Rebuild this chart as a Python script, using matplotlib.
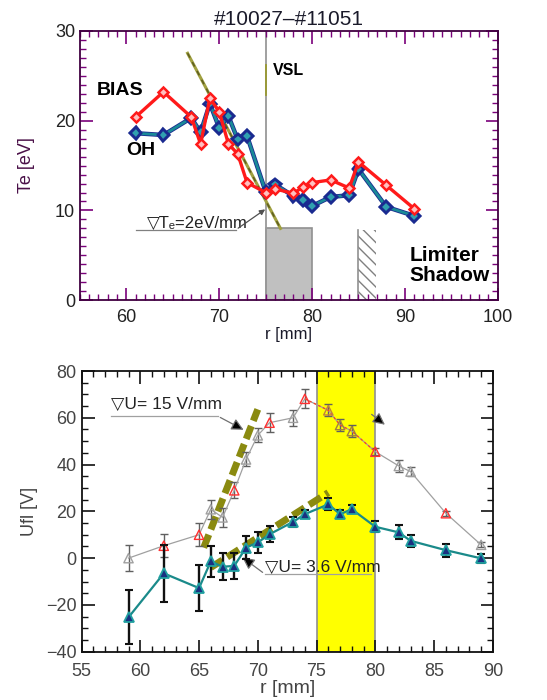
import numpy as np
import matplotlib.pyplot as plt
import matplotlib.patheffects as pe
from matplotlib.patches import Rectangle
from matplotlib.ticker import MultipleLocator

plt.rcParams['font.family'] = ['Liberation Sans', 'DejaVu Sans']

# electron temperature profiles (upper panel)
r_te = [61, 64, 67, 68, 69, 70, 71, 72, 73, 75, 76, 78, 79, 80, 82, 84, 85, 88, 91]
te_bias = [20.4, 23.2, 20.4, 17.4, 22.5, 21.0, 17.4, 16.3, 13.1, 12.0, 12.4, 11.9,
           12.6, 13.1, 13.4, 12.5, 15.4, 12.8, 10.2]
te_oh = [18.6, 18.4, 20.3, 18.7, 21.9, 19.2, 20.5, 17.9, 18.3, 12.1, 12.9, 11.6,
         11.2, 10.5, 11.5, 11.7, 14.6, 10.4, 9.4]

# floating potential profiles (lower panel)
r_uf = [59, 62, 65, 66, 67, 68, 69, 70, 71, 73, 74, 76, 77, 78, 80, 82, 83, 86, 89]
uf_bias = [0.0, 5.3, 10.0, 20.9, 17.4, 29.0, 42.2, 52.5, 57.9, 60.0, 68.1, 63.2,
           56.9, 54.3, 45.5, 39.4, 37.0, 19.2, 5.7]
uf_bias_err = [5.5, 5.0, 5.0, 4.0, 4.0, 3.5, 3.0, 3.0, 4.0, 3.5, 4.0, 2.6,
               2.5, 2.5, 1.5, 2.5, 2.0, 1.0, 1.0]
uf_oh = [-25.3, -6.5, -12.8, -1.4, -3.7, -3.3, 4.5, 6.7, 10.2, 15.5, 18.8, 23.0,
         18.8, 20.9, 13.4, 11.0, 7.4, 3.4, -0.1]
uf_oh_err = [11.6, 12.2, 9.8, 6.6, 5.8, 5.7, 5.0, 4.3, 3.5, 2.1, 1.7, 2.6,
             1.7, 1.7, 2.3, 3.0, 2.6, 2.8, 1.8]

# gradient fits: (r start, r end, value start, value end)
te_fit = [66.6, 76.6, 27.5, 8.0]
uf_fit_steep = [65.4, 70.0, 4.5, 63.6]
uf_fit_flat = [66.0, 76.0, -4.0, 28.0]

frame = '#400040'
purple = '#7a007a'

fig = plt.figure(figsize=(5.47, 7.0), dpi=100)

# ---------------- upper panel: Te ----------------
ax1 = fig.add_axes([0.146, 0.571, 0.764, 0.385])
ax1.set_xlim(55, 100)
ax1.set_ylim(0, 30)

ax1.add_patch(Rectangle((75, 0), 5, 8, facecolor='#c0c0c0', edgecolor='#909090', lw=1.2, zorder=1))
ax1.add_patch(Rectangle((85, 0), 1.9, 7.8, facecolor='none', edgecolor='#808080', lw=0,
                        hatch='\\\\\\', zorder=1))
ax1.plot([85, 85], [0, 7.8], color='#909090', lw=1.2, zorder=1)
ax1.axvline(75, color='#999999', lw=1.3, zorder=1)
ax1.plot([75, 75], [22.9, 26.2], color='#9a9a30', lw=1.3, zorder=1)

ax1.plot(te_fit[:2], te_fit[2:], color='#a0a040', lw=2.2, zorder=2)
ax1.plot(te_fit[:2], te_fit[2:], color='#606020', lw=1.2, ls=(0, (3, 3)), zorder=2)

ax1.plot(r_te, te_oh, color='#1a8a98', lw=2.0, marker='D', ms=5, mfc='#30a0b0',
         mec='#1a2a90', mew=1.1, zorder=3,
         path_effects=[pe.Stroke(linewidth=3.2, foreground='#1a2a90'), pe.Normal()])
ax1.plot(r_te, te_bias, color='#ff1a1a', lw=2.4, marker='D', ms=5.5, mfc='#ffc0c0',
         mec='#ff1a1a', mew=1.8, zorder=4)

ax1.text(56.8, 23.3, 'BIAS', fontsize=14, fontweight='bold', va='center')
ax1.text(60.0, 16.7, 'OH', fontsize=14, fontweight='bold', va='center')
ax1.text(75.8, 25.6, 'VSL', fontsize=11.5, fontweight='bold', va='center')
ax1.text(90.5, 3.9, 'Limiter\nShadow', fontsize=15, fontweight='bold', va='center',
         linespacing=1.05)

ax1.text(62.2, 8.6, '▽Tₑ=2eV/mm', fontsize=12, va='center', color='#222222')
ax1.plot([61.0, 71.8], [7.85, 7.85], color='#808080', lw=0.9)
ax1.annotate('', xy=(75.2, 10.3), xytext=(71.8, 7.85),
             arrowprops=dict(arrowstyle='-|>', color='#505050', lw=0.9, mutation_scale=8))

ax1.set_title('#10027\u2013#11051', fontsize=15, color='#1a1a2a', pad=4)
ax1.set_ylabel('Te [eV]', fontsize=13, color='#4a1048', labelpad=14)
ax1.set_xlabel('r [mm]', fontsize=12, color='#1a1a2a', labelpad=1)
ax1.xaxis.set_major_locator(MultipleLocator(10))
ax1.xaxis.set_minor_locator(MultipleLocator(1))
ax1.yaxis.set_major_locator(MultipleLocator(10))
ax1.yaxis.set_minor_locator(MultipleLocator(1))
ax1.tick_params(which='both', direction='in', top=True, right=True, color=purple,
                labelsize=13, labelcolor='#222222')
ax1.tick_params(which='major', length=9, width=1.2)
ax1.tick_params(which='minor', length=4, width=1)
ax1.tick_params(axis='x', pad=6)
for s in ax1.spines.values():
    s.set_color(frame)
    s.set_linewidth(1.3)

# ---------------- lower panel: Ufl ----------------
ax2 = fig.add_axes([0.149, 0.069, 0.752, 0.401])
ax2.set_xlim(55, 90)
ax2.set_ylim(-40, 80)

ax2.axvspan(75, 80, facecolor='#ffff00', edgecolor='#909090', lw=1.2, zorder=0)

ax2.plot(uf_fit_steep[:2], uf_fit_steep[2:], color='#8a8a10', lw=5, ls=(0, (2, 0.8)),
         solid_capstyle='butt', zorder=2)
ax2.plot(uf_fit_flat[:2], uf_fit_flat[2:], color='#8a8a10', lw=5, ls=(0, (2, 0.8)),
         solid_capstyle='butt', zorder=2)

ax2.errorbar(r_uf, uf_bias, yerr=uf_bias_err, fmt='none', ecolor='#606060', elinewidth=1,
             capsize=3, capthick=1, zorder=3)
ax2.plot(r_uf, uf_bias, color='#a0a0a0', lw=0.9, zorder=3)
ax2.plot(r_uf[10:15], uf_bias[10:15], color='#ff4020', lw=0.9, ls=(0, (2, 2)), zorder=3)
bias_edge = ['#a0a0a0', '#ff3030', '#ff3030', '#a0a0a0', '#a0a0a0', '#ff3030', '#a0a0a0',
             '#a0a0a0', '#ff3030', '#a0a0a0', '#ff3030', '#c08040', '#a08040', '#a08040',
             '#ff3030', '#a0a0a0', '#a0a0a0', '#ff3030', '#a0a0a0']
ax2.scatter(r_uf, uf_bias, marker='^', s=45, facecolors='none', edgecolors=bias_edge,
            linewidths=1, zorder=4)

ax2.errorbar(r_uf, uf_oh, yerr=uf_oh_err, fmt='none', ecolor='#111111', elinewidth=1.7,
             capsize=3, capthick=1.5, zorder=5)
ax2.plot(r_uf, uf_oh, color='#1a8a8a', lw=1.6, marker='^', ms=7, mfc='#1a3080',
         mec='#20a0a0', mew=1.3, zorder=6)

ax2.text(57.5, 65.7, '▽U= 15 V/mm', fontsize=12.5, va='center', color='#222222')
ax2.plot([57.5, 66.6], [60.7, 60.7], color='#a0a0a0', lw=0.9)
ax2.annotate('', xy=(69.0, 54.3), xytext=(66.6, 60.7),
             arrowprops=dict(arrowstyle='-|>', color='#707070', lw=0.9, mutation_scale=18,
                             fc='black'))
ax2.text(70.6, -4.0, '▽U= 3.6 V/mm', fontsize=12.5, va='center', color='#222222')
ax2.plot([70.6, 79.6], [-6.8, -6.8], color='#a0a0a0', lw=0.9)
ax2.annotate('', xy=(68.5, 1.0), xytext=(70.6, -6.8),
             arrowprops=dict(arrowstyle='-|>', color='#707070', lw=0.9, mutation_scale=18,
                             fc='black'))
ax2.annotate('', xy=(81.0, 56.3), xytext=(79.5, 62.2),
             arrowprops=dict(arrowstyle='-|>', color='#707070', lw=0.9, mutation_scale=18,
                             fc='black'))

ax2.set_ylabel('Ufl [V]', fontsize=13, color='#444444', labelpad=6)
ax2.set_xlabel('r [mm]', fontsize=14, color='#444444', labelpad=0)
ax2.xaxis.set_major_locator(MultipleLocator(5))
ax2.xaxis.set_minor_locator(MultipleLocator(1))
ax2.yaxis.set_major_locator(MultipleLocator(20))
ax2.yaxis.set_minor_locator(MultipleLocator(5))
ax2.tick_params(which='both', direction='in', top=True, right=True, color='#111111',
                labelsize=13, labelcolor='#444444')
ax2.tick_params(which='major', length=9, width=1.2)
ax2.tick_params(which='minor', length=4, width=1)
ax2.tick_params(axis='x', pad=8)
for s in ax2.spines.values():
    s.set_color('#111111')
    s.set_linewidth(1.3)

fig.savefig('out.png', dpi=100)
